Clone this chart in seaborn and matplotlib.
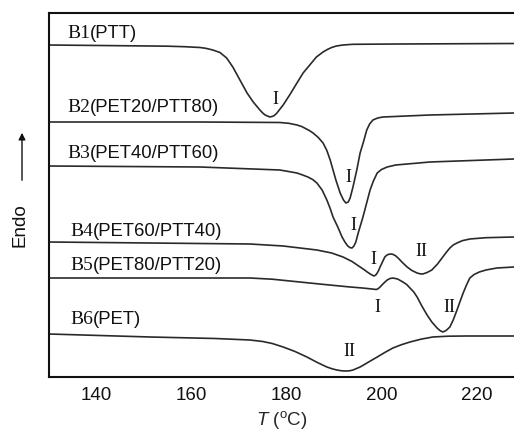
import matplotlib
matplotlib.use("Agg")
import matplotlib.pyplot as plt
import seaborn as sns
import pandas as pd

# ---------------- data ----------------
b1_T = [130, 151.3, 155.0, 158.5, 161.8, 163.0, 164.5, 166.0, 167.4, 168.7, 170.2, 171.7, 173.0,
        174.4, 175.0, 175.5, 176.5, 177.3, 177.9, 179.3, 180.8, 182.2, 183.5, 184.9, 186.3, 187.7,
        188.6, 189.5, 190.5, 191.9, 194.0, 203.9, 227.9]
b1_y = [332, 331, 330.8, 330.3, 329.5, 328.7, 327, 324.5, 319, 310, 297, 284, 275,
        267, 264, 262, 260, 261, 263.5, 272, 283, 294, 304, 312, 320, 325,
        327.5, 329.5, 331, 332, 332.7, 333, 333.5]

b2_T = [130, 161.8, 178.6, 180.5, 182.2, 183.2, 184.0, 184.8, 185.6, 186.7, 187.7, 188.5, 189.2,
        189.8, 190.4, 191.3, 191.7, 192.0, 192.5, 193.0, 193.4, 194.0, 194.8, 195.5, 196.2, 196.9,
        197.5, 198.2, 199.2, 200.3, 210.2, 227.9]
b2_y = [255, 255, 254.5, 253.7, 252, 250.5, 248.5, 246.5, 244, 239.5, 234, 226.5, 217,
        207, 197, 184, 180, 177, 174, 175, 179, 190, 207, 224, 235, 247,
        253, 257, 259, 260, 262, 264]

b3_T = [130, 161.8, 178.6, 182.2, 183.4, 184.5, 185.5, 186.4, 187.5, 188.5, 189.2, 189.8, 190.8,
        191.7, 192.3, 192.9, 193.4, 193.8, 194.2, 194.6, 195.1, 196.1, 197.6, 198.3, 199.1, 200.0,
        201.2, 203.0, 210.2, 227.9]
b3_y = [211, 210, 207, 204, 202, 200, 197.5, 194, 187, 177, 168.5, 160, 150,
        140, 135, 131, 129.3, 129, 131, 135, 144, 160, 187, 196, 204, 207.5,
        210, 212, 215, 218]

b4_T = [130, 172.3, 179.3, 186.4, 189.5, 191.9, 193.8, 195.5, 196.3, 197.0, 197.8, 198.4, 198.8,
        199.1, 199.4, 199.7, 200.2, 200.7, 201.1, 201.5, 202.2, 202.9, 203.5, 204.4, 205.4, 206.4,
        207.5, 208.1, 208.7, 209.6, 210.6, 211.8, 212.9, 213.7, 214.4, 215.1, 215.9, 217.0, 218.6,
        222.0, 227.9]
b4_y = [135, 133, 131, 127, 124, 120, 115.5, 110, 107.5, 105, 102.5, 101, 102,
        104, 106.5, 110, 115, 120, 121.8, 122.7, 123, 121.5, 119, 114.5, 110, 106.5,
        104, 103.2, 103, 104.5, 107, 113, 120, 125, 129, 132, 134, 136.3, 138,
        139.3, 140]

b5_T = [130, 172.3, 177.0, 182.8, 188.0, 193.4, 196.0, 198.0, 198.9, 199.3, 199.7, 200.4, 201.2,
        201.8, 202.4, 203.4, 204.5, 205.3, 206.0, 206.8, 207.5, 208.5, 209.6, 210.6, 211.7, 212.3,
        212.9, 213.6, 214.4, 215.1, 215.9, 216.5, 217.2, 217.9, 218.6, 219.5, 220.6, 222.0, 224.3,
        227.9]
b5_y = [99, 99, 97.8, 95, 92.5, 90, 89, 88, 87.5, 88.3, 90, 93.5, 97,
        98.5, 99, 98, 95, 92.5, 89, 85, 80, 71, 62, 55, 49, 46.5,
        45, 46.5, 50, 57, 67, 75, 84, 92, 99, 102.5, 105, 107, 109,
        110]

b6_T = [130, 151.3, 165.0, 172.3, 175.0, 177.0, 179.3, 181.8, 184.3, 186.5, 188.5, 189.6, 190.6,
        191.6, 192.7, 193.4, 194.0, 195.5, 197.3, 199.1, 200.8, 202.4, 204.2, 206.0, 208.3, 210.8,
        214.0, 218.0, 227.9]
b6_y = [43, 40, 38.5, 37, 35.5, 33.5, 30, 25.5, 20, 14.5, 10, 8.2, 7,
        6.2, 6, 6.3, 7, 10, 15, 20, 24.8, 29, 32.3, 35, 37.8, 40,
        40.8, 41, 41]

curve_codes = ["B1", "B2", "B3", "B4", "B5", "B6"]
curve_names = ["(PTT)", "(PET20/PTT80)", "(PET40/PTT60)", "(PET60/PTT40)", "(PET80/PTT20)", "(PET)"]
label_T = [133.8, 133.8, 133.8, 134.4, 134.4, 134.4]
label_y = [344, 269, 223, 146, 111, 57]

peak_text = ["I", "I", "I", "I", "II", "I", "II", "II"]
peak_T = [177.6, 193.0, 194.0, 198.4, 208.5, 199.1, 214.2, 193.2]
peak_y = [277, 199, 151, 118, 125, 70, 69, 25]

x_ticks = [140, 160, 180, 200, 220]

# ---------------- plotting ----------------
sns.set_style("white")
plt.rcParams["font.family"] = ["Liberation Sans", "DejaVu Sans"]
plt.rcParams["mathtext.fontset"] = "custom"
plt.rcParams["mathtext.rm"] = "Liberation Sans"
plt.rcParams["mathtext.it"] = "Liberation Sans:italic"

W, H = 514, 437
fig = plt.figure(figsize=(W / 100, H / 100), dpi=100)
ax = fig.add_axes([49 / W, (H - 377) / H, (W - 49) / W, 364 / H])

curves = [(b1_T, b1_y), (b2_T, b2_y), (b3_T, b3_y), (b4_T, b4_y), (b5_T, b5_y), (b6_T, b6_y)]
for code, (T, y) in zip(curve_codes, curves):
    df = pd.DataFrame({"T": T, "y": y})
    sns.lineplot(data=df, x="T", y="y", ax=ax, color="#2a2a2a", linewidth=1.2, sort=False)

ax.set_xlim(130, 227.9)
ax.set_ylim(0, 364)
ax.set_yticks([])
ax.set_xticks(x_ticks)
ax.set_xticklabels([str(t) for t in x_ticks], fontsize=13.5)
ax.tick_params(axis="x", direction="in", length=7, width=1.2, pad=7, colors="#111111")
for s in ["left", "bottom", "top"]:
    ax.spines[s].set_linewidth(1.5)
    ax.spines[s].set_color("#111111")
ax.spines["right"].set_visible(False)

ax.set_xlabel(r"$T$ ($^{\rm o}$C)", fontsize=13.5, labelpad=4)
ax.set_ylabel("")

for code, name, tx, ty in zip(curve_codes, curve_names, label_T, label_y):
    t1 = ax.text(tx, ty, code, fontsize=14, family="Liberation Serif", va="center", ha="left",
                 color="#111111")
    ax.annotate(name, xy=(1, 0.5), xycoords=t1, va="center", ha="left", fontsize=13.3,
                family="Liberation Sans", color="#111111")

for txt, tx, ty in zip(peak_text, peak_T, peak_y):
    ax.text(tx, ty, txt, fontsize=13, family="Liberation Serif", ha="center", va="center",
            color="#111111")

fig.text(20 / W, 1 - 225 / H, "Endo", rotation=90, fontsize=13.5, ha="center", va="center",
         color="#111111")
fig.add_artist(matplotlib.patches.FancyArrowPatch(
    (22 / W, 1 - 183 / H), (22 / W, 1 - 130 / H), transform=fig.transFigure,
    arrowstyle="-|>", mutation_scale=10, lw=1.0, color="#111111"))

fig.savefig("out.png", dpi=100)
